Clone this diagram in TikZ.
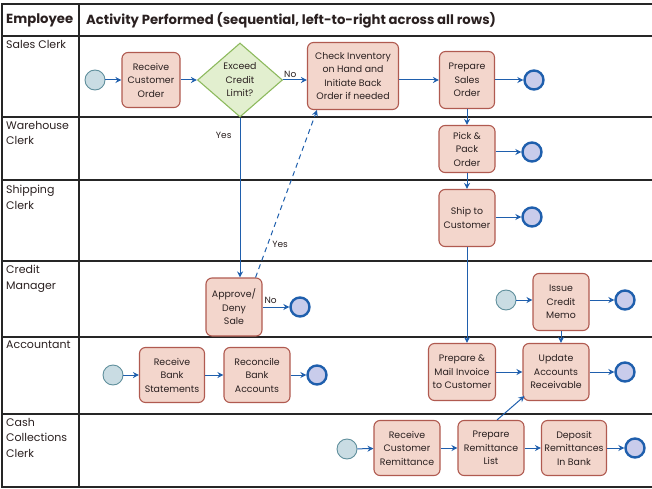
\documentclass[tikz,border=0pt]{standalone}
\usepackage{fontspec}
\setmainfont{Poppins}
\usetikzlibrary{arrows.meta,shapes.geometric,calc}
\definecolor{boxfill}{HTML}{F3D6CC}
\definecolor{boxdraw}{HTML}{B05A50}
\definecolor{diafill}{HTML}{E2EFCF}
\definecolor{diadraw}{HTML}{8DBA5E}
\definecolor{startfill}{HTML}{C9DCE3}
\definecolor{startdraw}{HTML}{5F8F9C}
\definecolor{endfill}{HTML}{C9CCEB}
\definecolor{flow}{HTML}{1F5FAD}
\definecolor{txt}{HTML}{2A2020}
\tikzset{
  every node/.style={text=txt},
  actbox/.style={draw=boxdraw, fill=boxfill, line width=1.1pt, rounded corners=6pt, align=center,
     font=\fontsize{9.4}{13.5}\selectfont, inner sep=0.5pt},
  decide/.style={diamond, draw=diadraw, fill=diafill, line width=1.1pt, align=center, aspect=1.15,
     font=\fontsize{9.4}{13.5}\selectfont, inner sep=0pt},
  startc/.style={circle, draw=startdraw, fill=startfill, line width=0.9pt, minimum size=20pt, inner sep=0pt},
  endc/.style={circle, draw=flow, fill=endfill, line width=2.4pt, minimum size=19pt, inner sep=0pt},
  flowarrow/.style={draw=flow, line width=1pt, -{Stealth[length=6pt,width=6pt]}},
  grid/.style={draw=black!85, line width=1.3pt},
  rowlab/.style={anchor=north west, align=left, font=\fontsize{11}{15.5}\selectfont, inner sep=0pt},
  edgelab/.style={font=\fontsize{9}{11}\selectfont, inner sep=0pt},
  headlab/.style={anchor=west, font=\fontsize{13.2}{15}\selectfont\bfseries, inner sep=0pt}
}
\begin{document}
\begin{tikzpicture}[x=1pt,y=-1pt]
\useasboundingbox (0,0) rectangle (652,489);
% table
\draw[grid] (652,4) -- (2,4) -- (2,487) -- (652,487);
\draw[grid] (79,4) -- (79,487);
\foreach \yy in {36,117,180,261,337,414} \draw[grid] (2,\yy) -- (652,\yy);
% header
\node[headlab] (hemp) at (6,20) {Employee};
\node[headlab] (hact) at (86,20) {Activity Performed (sequential, left-to-right across all rows)};
% row labels
\node[rowlab] (r1) at (6,40) {Sales Clerk};
\node[rowlab] (r2) at (6,121) {Warehouse\\Clerk};
\node[rowlab] (r3) at (6,185) {Shipping\\Clerk};
\node[rowlab] (r4) at (6,265) {Credit\\Manager};
\node[rowlab] (r5) at (6,341) {Accountant};
\node[rowlab] (r6) at (6,418) {Cash\\Collections\\Clerk};

% Sales clerk row
\node[startc] (s1) at (95,80) {};
\node[actbox, minimum width=58pt, minimum height=55pt] (rco) at (151,80) {Receive\\Customer\\Order};
\node[decide, minimum width=85pt, minimum height=74pt] (dia) at (240,80) {Exceed\\Credit\\Limit?};
\node[actbox, minimum width=91pt, minimum height=67pt] (chk) at (353,76) {Check Inventory\\on Hand and\\Initiate Back\\Order if needed};
\node[actbox, minimum width=55pt, minimum height=57pt] (pso) at (467,80) {Prepare\\Sales\\Order};
\node[endc] (e1) at (534,80) {};
% Warehouse
\node[actbox, minimum width=56pt, minimum height=47pt] (pick) at (467,149) {Pick \&\\Pack\\Order};
\node[endc] (e2) at (532,152) {};
% Shipping
\node[actbox, minimum width=56pt, minimum height=57pt] (ship) at (467,218) {Ship to\\Customer};
\node[endc] (e3) at (532,217) {};
% Credit manager
\node[actbox, minimum width=56pt, minimum height=58pt] (app) at (234,307) {Approve/\\Deny\\Sale};
\node[endc] (e4) at (300,307) {};
\node[startc] (s5) at (506,300) {};
\node[actbox, minimum width=56pt, minimum height=57pt] (icm) at (561,302) {Issue\\Credit\\Memo};
\node[endc] (e5) at (625,300) {};
% Accountant
\node[startc] (s6) at (113,375) {};
\node[actbox, minimum width=65pt, minimum height=55pt] (rbs) at (172,375) {Receive\\Bank\\Statements};
\node[actbox, minimum width=66pt, minimum height=55pt] (rba) at (257,375) {Reconcile\\Bank\\Accounts};
\node[endc] (e6) at (317,375) {};
\node[actbox, minimum width=67pt, minimum height=57pt] (pmi) at (462,372) {Prepare \&\\Mail Invoice\\to Customer};
\node[actbox, minimum width=66pt, minimum height=57pt] (uar) at (556,372) {Update\\Accounts\\Receivable};
\node[endc] (e7) at (625,372) {};
% Cash collections
\node[startc] (s8) at (347,449) {};
\node[actbox, minimum width=66pt, minimum height=55pt] (rcr) at (407,448) {Receive\\Customer\\Remittance};
\node[actbox, minimum width=66pt, minimum height=55pt] (prl) at (491,448) {Prepare\\Remittance\\List};
\node[actbox, minimum width=65pt, minimum height=55pt] (drb) at (574,448) {Deposit\\Remittances\\In Bank};
\node[endc] (e8) at (635,448) {};

% connectors
\draw[flowarrow] (s1) -- (rco);
\draw[flowarrow] (rco) -- (dia);
\draw[flowarrow] (dia.east) -- (dia.east -| chk.west) node[edgelab, pos=0.3, above=2pt] (lno1) {No};
\draw[flowarrow] (chk.east |- pso.west) -- (pso.west);
\draw[flowarrow] (pso) -- (e1);
\draw[flowarrow] (pso.south) -- (pick.north);
\draw[flowarrow] (pick.east |- e2) -- (e2);
\draw[flowarrow] (pick.south) -- (ship.north);
\draw[flowarrow] (ship.east |- e3) -- (e3);
\draw[flowarrow] (ship.south) -- (ship.south |- pmi.north);
\draw[flowarrow] (dia.south) -- (dia.south |- app.north) node[edgelab, pos=0.11, left=8pt] (lyes1) {Yes};
\draw[flowarrow, dash pattern=on 5pt off 4pt] ([xshift=-7pt]app.north east) -- ([xshift=10pt]chk.south west) node[edgelab, pos=0.2, right=4pt] (lyes2) {Yes};
\draw[flowarrow] (app) -- (e4) node[edgelab, pos=0.3, above=3pt] (lno2) {No};
\draw[flowarrow] (s5) -- (s5 -| icm.west);
\draw[flowarrow] (icm.east |- e5) -- (e5);
\draw[flowarrow] (icm.south) -- (icm.south |- uar.north);
\draw[flowarrow] (s6) -- (rbs);
\draw[flowarrow] (rbs) -- (rba);
\draw[flowarrow] (rba) -- (e6);
\draw[flowarrow] (pmi) -- (uar);
\draw[flowarrow] (uar) -- (e7);
\draw[flowarrow] (s8) -- (rcr);
\draw[flowarrow] (rcr) -- (prl);
\draw[flowarrow] (prl) -- (drb);
\draw[flowarrow] (drb) -- (e8);
\draw[flowarrow] ([xshift=6pt]prl.north) -- ([shift={(2pt,5pt)}]uar.south west);
\end{tikzpicture}
\end{document}
